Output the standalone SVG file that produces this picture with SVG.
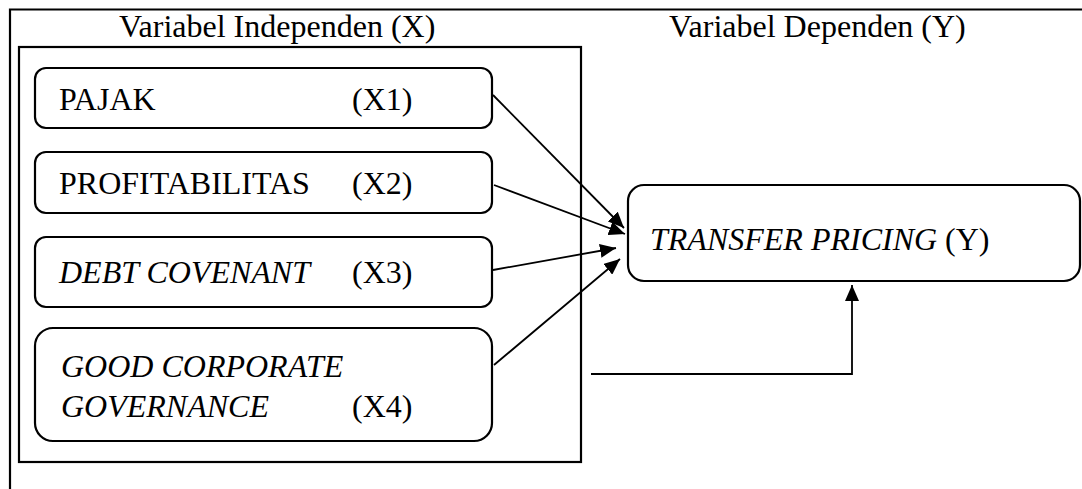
<svg xmlns="http://www.w3.org/2000/svg" width="1082" height="489" viewBox="0 0 1082 489">
<defs>
<style>
.t{font-family:"Liberation Serif","Times New Roman",serif;font-size:32px;fill:#000}
.i{font-style:italic}
.box{fill:#fff;stroke:#000;stroke-width:2.2}
.ln{fill:none;stroke:#000;stroke-width:1.8}
.frame{fill:none;stroke:#000;stroke-width:2.2}
</style>
<marker id="ah" markerUnits="userSpaceOnUse" markerWidth="18" markerHeight="14" refX="16" refY="7" orient="auto">
<path d="M0,0 L16,7 L0,14 Z" fill="#000"/>
</marker>
</defs>
<rect width="1082" height="489" fill="#fff"/>
<g id="frame">
<path class="frame" d="M10,489 V9.5 H1082"/>
<rect class="frame" x="19" y="47" width="562" height="415"/>
<text class="t" x="119" y="37">Variabel Independen (X)</text>
<text class="t" x="669" y="37">Variabel Dependen (Y)</text>
</g>
<g id="x1">
<rect class="box" x="35" y="68" width="457" height="60" rx="11"/>
<text class="t" x="59" y="110">PAJAK</text>
<text class="t" x="352" y="110">(X1)</text>
</g>
<g id="x2">
<rect class="box" x="35" y="152" width="457" height="61" rx="11"/>
<text class="t" x="59" y="194">PROFITABILITAS</text>
<text class="t" x="352" y="194">(X2)</text>
</g>
<g id="x3">
<rect class="box" x="35" y="237" width="457" height="70" rx="11"/>
<text class="t i" x="59" y="283">DEBT COVENANT</text>
<text class="t" x="352" y="283">(X3)</text>
</g>
<g id="x4">
<rect class="box" x="35" y="328" width="457" height="113" rx="18"/>
<text class="t i" x="61" y="377">GOOD CORPORATE</text>
<text class="t i" x="61" y="417">GOVERNANCE</text>
<text class="t" x="352" y="417">(X4)</text>
</g>
<g id="y">
<rect class="box" x="628" y="185" width="452" height="96" rx="16"/>
<text class="t" x="650" y="250"><tspan class="i">TRANSFER PRICING</tspan> (Y)</text>
</g>
<g id="connectors">
<line class="ln" x1="493" y1="95" x2="624" y2="228" marker-end="url(#ah)"/>
<line class="ln" x1="494" y1="185" x2="625" y2="234" marker-end="url(#ah)"/>
<line class="ln" x1="493" y1="270" x2="616" y2="248" marker-end="url(#ah)"/>
<line class="ln" x1="494" y1="365" x2="620" y2="259" marker-end="url(#ah)"/>
<path class="ln" d="M591,374 H852 V285" marker-end="url(#ah)"/>
</g>
</svg>
